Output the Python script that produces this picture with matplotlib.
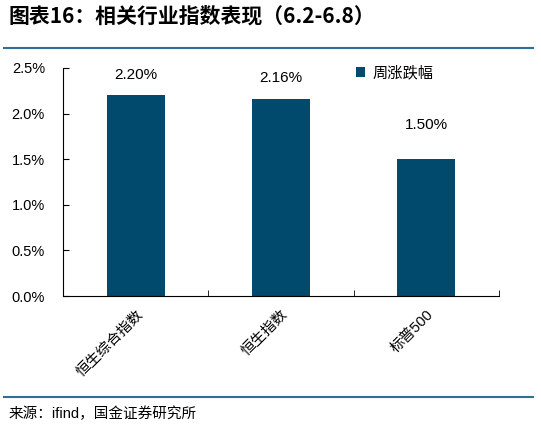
import matplotlib.pyplot as plt
from matplotlib.lines import Line2D
from matplotlib.ticker import PercentFormatter, MultipleLocator, FixedLocator

plt.rcParams['font.family'] = ['Liberation Sans', 'Noto Sans CJK SC', 'DejaVu Sans']

categories = ['恒生综合指数', '恒生指数', '标普500']
weekly_change = [2.20, 2.16, 1.50]
series_name = '周涨跌幅'

bar_color = '#02496E'
line_color = '#2E6E97'

fig = plt.figure(figsize=(5.41, 4.29), dpi=100)
ax = fig.add_axes([0.1165, 0.31, 0.8055, 0.5315])

x = range(len(categories))
bars = ax.bar(x, weekly_change, width=0.4, color=bar_color, label=series_name)

# label gaps above bars, as in the source chart
label_gap = [0.22, 0.23, 0.38]
for b, v, g in zip(bars, weekly_change, label_gap):
    ax.text(b.get_x() + b.get_width() / 2, v + g, f'{v:.2f}%',
            ha='center', va='center', fontsize=11)

ax.set_xlim(-0.5, len(categories) - 0.5)
ax.set_ylim(0, 2.5)
ax.yaxis.set_major_locator(MultipleLocator(0.5))
ax.yaxis.set_major_formatter(PercentFormatter(decimals=1))
ax.tick_params(axis='y', direction='in', length=4, labelsize=10.5, pad=13)

ax.set_xticks(list(x))
ax.set_xticklabels(categories, rotation=45, ha='right', rotation_mode='anchor', fontsize=10.5)
ax.tick_params(axis='x', which='major', length=0, pad=8)
ax.xaxis.set_minor_locator(FixedLocator([0.5, 1.5, 2.5]))
ax.tick_params(axis='x', which='minor', direction='in', length=4)

ax.spines['top'].set_visible(False)
ax.spines['right'].set_visible(False)

ax.legend(loc='upper left', bbox_to_anchor=(0.64, 1.07), frameon=False,
          handlelength=0.6, handleheight=0.6, fontsize=11, handletextpad=0.5)

fig.text(0.015, 0.963, '图表16：相关行业指数表现（6.2-6.8）', fontsize=15,
         fontweight='bold', family=['Noto Sans CJK SC'], va='center', ha='left')
fig.add_artist(Line2D([0.008, 0.985], [1 - 48 / 429] * 2, color=line_color, lw=1.5))
fig.add_artist(Line2D([0.008, 0.985], [1 - 397 / 429] * 2, color=line_color, lw=1.5))
fig.text(0.015, 1 - 414 / 429, '来源：ifind，国金证券研究所', fontsize=10.5,
         va='center', ha='left')

fig.savefig('out.png', dpi=100)
